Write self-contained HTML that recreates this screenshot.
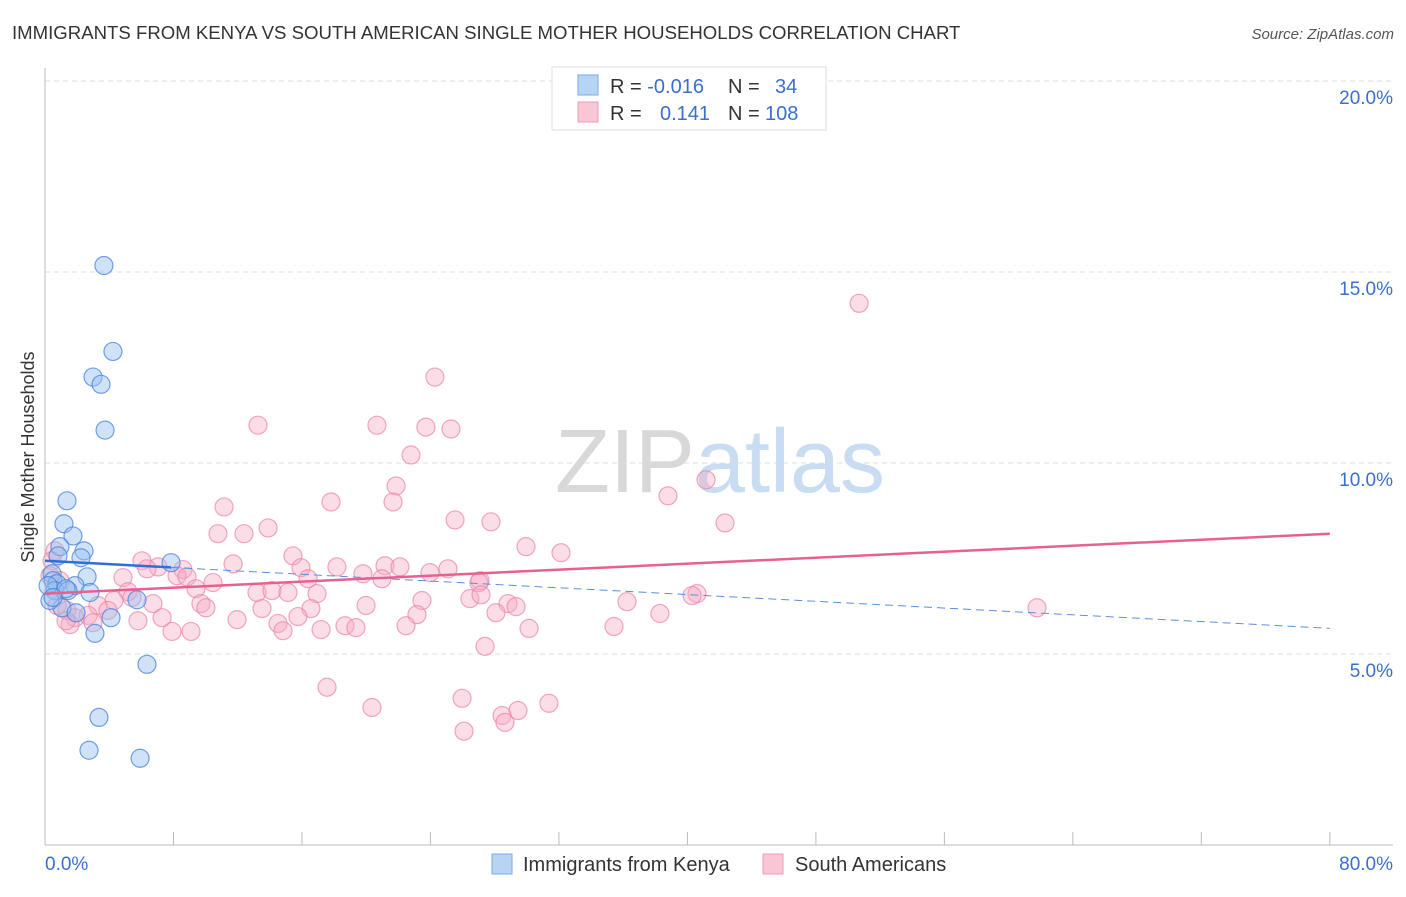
<!DOCTYPE html>
<html><head><meta charset="utf-8"><style>
body{margin:0;background:#fff;font-family:"Liberation Sans",sans-serif;}
svg text{font-family:"Liberation Sans",sans-serif;}
</style></head><body>
<svg width="1406" height="892">
<text x="12" y="39" font-size="18.6" fill="#333">IMMIGRANTS FROM KENYA VS SOUTH AMERICAN SINGLE MOTHER HOUSEHOLDS CORRELATION CHART</text>
<text x="1394" y="39" font-size="15" fill="#555" text-anchor="end" font-style="italic">Source: ZipAtlas.com</text>
<text x="720" y="492" font-size="90" fill="#ddd" text-anchor="middle" font-family="Liberation Serif"><tspan fill="#d8d8d8">ZIP</tspan><tspan fill="#c8dcf2" font-family="Liberation Sans">atlas</tspan></text>
<g id="grid"></g>
<g id="axes"></g>
<g id="marks"></g>
<text transform="translate(34,457) rotate(-90)" font-size="18" fill="#333" text-anchor="middle">Single Mother Households</text>
<g>
<rect x="552" y="67" width="274" height="63" fill="#fff" stroke="#ddd"/>
<rect x="578" y="75" width="20" height="20" fill="#b8d4f5" stroke="#7aaae6"/>
<rect x="578" y="102" width="20" height="20" fill="#f9c6d5" stroke="#f09ab5"/>
<text x="610" y="93" font-size="20" fill="#333">R = <tspan fill="#3a6fd0">-0.016</tspan><tspan x="728">N = </tspan><tspan x="775" fill="#3a6fd0">34</tspan></text>
<text x="610" y="120" font-size="20" fill="#333">R = <tspan x="660" fill="#3a6fd0">0.141</tspan><tspan x="728">N = </tspan><tspan x="765" fill="#3a6fd0">108</tspan></text>
</g>
<g>
<rect x="492" y="854" width="20" height="20" fill="#b8d4f5" stroke="#7aaae6"/>
<text x="523" y="871" font-size="20" fill="#333">Immigrants from Kenya</text>
<rect x="763" y="854" width="20" height="20" fill="#f9c6d5" stroke="#f09ab5"/>
<text x="795" y="871" font-size="20" fill="#333">South Americans</text>
</g>
</svg>
<script>
const yTicks=[5,10,15,20];
const yTickLabels=["5.0%","10.0%","15.0%","20.0%"];
const xTickValues=[8,16,24,32,40,48,56,64,72,80];
const blueX=[3.67,4.23,2.99,3.49,3.74,1.37,1.18,1.74,0.93,2.43,0.81,2.24,7.85,0.44,2.62,0.50,0.75,1.87,0.62,1.43,2.80,5.73,1.06,1.93,4.11,3.11,6.35,3.36,2.74,5.92,0.31,0.19,1.31,0.50];
const blueY=[15.17,12.92,12.25,12.06,10.86,9.01,8.41,8.09,7.81,7.70,7.57,7.52,7.39,7.10,7.02,6.92,6.84,6.79,6.66,6.66,6.61,6.42,6.21,6.08,5.95,5.54,4.73,3.34,2.48,2.27,6.40,6.79,6.71,6.48];
const pinkX=[50.69,24.28,13.26,20.67,23.72,25.28,22.79,11.15,17.81,21.86,21.67,38.79,41.16,25.53,27.77,42.34,13.89,10.77,12.39,29.95,32.13,15.44,6.04,11.71,7.04,21.17,22.10,18.18,6.35,8.59,25.09,15.94,19.80,23.97,8.22,4.86,8.84,20.98,16.38,10.46,27.09,9.40,27.02,13.20,14.13,16.94,15.13,5.17,5.42,40.60,40.29,26.46,27.15,23.47,4.30,6.72,9.71,36.24,28.83,29.33,19.99,13.51,10.02,16.56,3.30,0.75,2.68,28.08,61.77,15.75,7.29,1.37,11.96,23.16,14.51,5.79,1.87,18.68,22.48,35.43,30.14,19.36,17.19,14.82,7.91,9.09,38.29,1.56,27.40,17.56,25.97,20.36,31.38,29.45,28.46,28.64,26.09,0.62,0.44,0.31,0.93,3.92,2.99,1.31];
const pinkY=[14.18,12.25,10.99,10.99,10.94,10.89,10.21,8.85,8.98,9.40,8.98,9.14,9.56,8.51,8.46,8.43,8.30,8.15,8.15,7.81,7.65,7.57,7.44,7.36,7.28,7.31,7.28,7.28,7.23,7.21,7.23,7.26,7.10,7.13,7.05,7.00,7.02,6.97,6.97,6.87,6.92,6.71,6.87,6.61,6.66,6.58,6.61,6.63,6.48,6.58,6.53,6.45,6.55,6.40,6.40,6.32,6.32,6.37,6.32,6.24,6.27,6.19,6.21,6.19,6.27,6.27,6.01,6.08,6.21,5.98,5.95,6.14,5.90,6.03,5.80,5.87,5.95,5.74,5.74,5.72,5.67,5.69,5.64,5.61,5.59,5.59,6.06,5.77,5.20,4.13,3.84,3.60,3.71,3.52,3.39,3.21,2.98,7.70,7.44,7.05,6.92,6.14,5.82,5.87];
const blueTrend=[7.44,-0.0221]; // intercept, slope
const pinkTrend=[6.58,0.0196];
const NS="http://www.w3.org/2000/svg";
const X=v=>45+v*16.06, Y=v=>845-v*38.2;
function mk(tag,attrs,parent){const e=document.createElementNS(NS,tag);for(const k in attrs)e.setAttribute(k,attrs[k]);document.getElementById(parent).appendChild(e);return e;}
yTicks.forEach((t,i)=>{
 const l=mk('line',{x1:45,x2:1393,y1:Y(t),y2:Y(t),stroke:'#ddd','stroke-dasharray':'5,4'},'grid');
 
 
 const tx=mk('text',{x:1393,y:Y(t)+23,'font-size':19,fill:'#3a6fd0','text-anchor':'end'},'grid');
 tx.textContent=yTickLabels[i];
 
 
});
mk('line',{x1:45,x2:45,y1:68,y2:845,stroke:'#bbb'},'axes');
mk('line',{x1:45,x2:1393,y1:845,y2:845,stroke:'#bbb'},'axes');
xTickValues.forEach(t=>{const l=mk('line',{x1:X(t),x2:X(t),y1:832,y2:845,stroke:'#bbb'},'axes');
 
 });
let t0=mk('text',{x:45,y:870,'font-size':19,fill:'#3a6fd0'},'axes');t0.textContent='0.0%';


let t1=mk('text',{x:1393,y:870,'font-size':19,fill:'#3a6fd0','text-anchor':'end'},'axes');t1.textContent='80.0%';


pinkX.forEach((v,i)=>{const c=mk('circle',{cx:X(v),cy:Y(pinkY[i]),r:9,fill:'rgba(246,170,195,0.4)',stroke:'rgba(236,130,165,0.7)','stroke-width':1.2},'marks');
 
 });
blueX.forEach((v,i)=>{const c=mk('circle',{cx:X(v),cy:Y(blueY[i]),r:9,fill:'rgba(150,190,240,0.45)',stroke:'rgba(70,130,220,0.75)','stroke-width':1.2},'marks');
 
 });
const bmax=Math.max(...blueX);
let bl=mk('line',{x1:X(0),y1:Y(blueTrend[0]),x2:X(bmax),y2:Y(blueTrend[0]+blueTrend[1]*bmax),stroke:'#2d6fd6','stroke-width':2.5},'marks');


let bd=mk('line',{x1:X(bmax),y1:Y(blueTrend[0]+blueTrend[1]*bmax),x2:X(80),y2:Y(blueTrend[0]+blueTrend[1]*80),stroke:'#5b8fe0','stroke-width':1,'stroke-dasharray':'8,5'},'marks');


let pl=mk('line',{x1:X(0),y1:Y(pinkTrend[0]),x2:X(80),y2:Y(pinkTrend[0]+pinkTrend[1]*80),stroke:'#e8608f','stroke-width':2.5},'marks');


</script>
</body></html>
